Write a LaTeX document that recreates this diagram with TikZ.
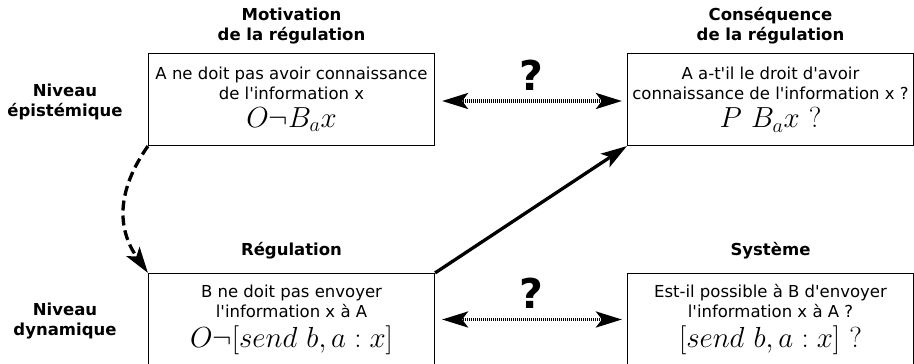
\documentclass[tikz,border=0pt]{standalone}
\usepackage{fix-cm}
\usepackage[no-math]{fontspec}
\setmainfont{DejaVu Sans}[Ligatures=TeXOff]
\usetikzlibrary{arrows.meta,positioning}

\begin{document}
\begin{tikzpicture}[x=1pt,y=1pt,
  >={Stealth[length=26pt,width=16pt,inset=6pt]},
  box/.style={draw,line width=1.2pt,minimum width=286pt,minimum height=92pt,
    inner sep=0pt,align=center,font=\fontsize{16.5}{20}\selectfont},
  heading/.style={font=\bfseries\fontsize{16.5}{20}\selectfont,align=center,
    inner sep=2pt,text depth=4pt},
  qmark/.style={font=\bfseries\fontsize{41}{41}\selectfont,inner sep=0pt},
  dotlink/.style={<->,line width=3.3pt,dash pattern=on 1pt off 1pt,
    shorten <=7pt,shorten >=5pt},
  solidlink/.style={->,line width=3.3pt},
  dashlink/.style={->,line width=3.3pt,dash pattern=on 10pt off 5pt}]
  \def\fml#1{{\fontsize{29}{29}\selectfont$#1$}}
  \useasboundingbox (0,0) rectangle (914,364);
  \clip (0,0) rectangle (914,364);
  % the four boxes
  \node[box] (motiv) at (291.5,264.5)
    {A ne doit pas avoir connaissance\\de l'information x\\[7pt]\fml{O\neg B_ax}};
  \node[box] (conseq) at (770.5,264.5)
    {A a-t'il le droit d'avoir\\connaissance de l'information x ?\\[7pt]\fml{P\ B_ax\ ?}};
  \node[box] (regul) at (291.5,44.5)
    {B ne doit pas envoyer\\l'information x à A\\[7pt]\fml{O\neg[send\ b,a:x]}};
  \node[box] (syst) at (770.5,44.5)
    {Est-il possible à B d'envoyer\\l'information x à A ?\\[7pt]\fml{[send\ b,a:x]\ ?}};
  % titles
  \node[heading,above=6pt of motiv] (hMotiv) {Motivation\\de la régulation};
  \node[heading,above=6pt of conseq] (hConseq) {Conséquence\\de la régulation};
  \node[heading,above=11pt of regul] (hRegul) {Régulation};
  \node[heading,above=11pt of syst] (hSyst) {Système};
  \node[heading] (lvlEpist) at ([xshift=-226.5pt,yshift=-3pt]motiv.center) {Niveau\\épistémique};
  \node[heading] (lvlDyn) at ([xshift=-226.5pt,yshift=-2pt]regul.center) {Niveau\\dynamique};
  % links
  \draw[dotlink] ([yshift=-1.5pt]motiv.east) -- node[qmark,above=9pt] (qEpist) {?}
    ([yshift=-1.5pt]conseq.west);
  \draw[dotlink] (regul.east) -- node[qmark,above=9pt] (qDyn) {?} (syst.west);
  \draw[solidlink] (regul.north east) -- (conseq.south west);
  \draw[dashlink] (motiv.south west) to[out=235,in=125,looseness=1.1] (regul.north west);
\end{tikzpicture}
\end{document}
